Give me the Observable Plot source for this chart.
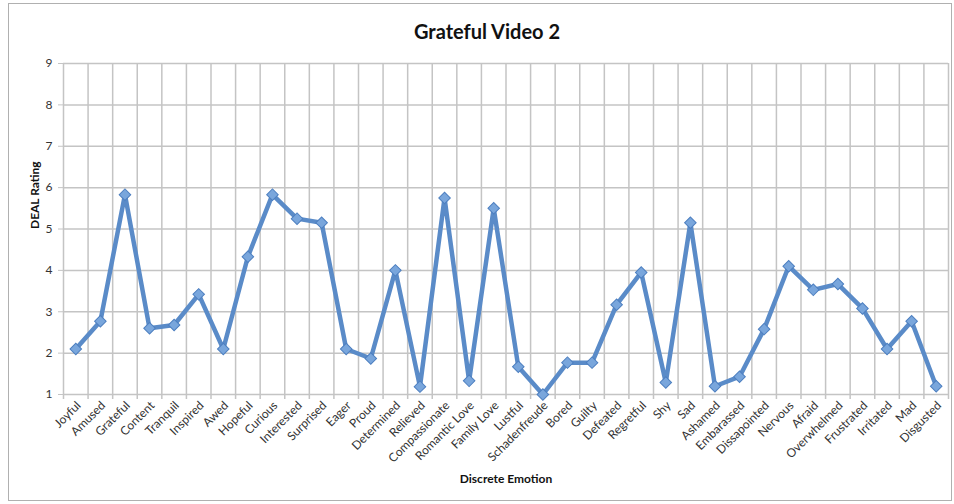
<!DOCTYPE html>
<html><head><meta charset="utf-8">
<script src="https://cdn.jsdelivr.net/npm/d3@7"></script>
<script src="https://cdn.jsdelivr.net/npm/@observablehq/plot@0.6"></script>
<style>
body{margin:0;background:#fff;font-family:Lato,"Open Sans",sans-serif;}
#wrap{position:relative;width:954px;height:504px;overflow:hidden;}
#border{position:absolute;left:8px;top:3px;width:942px;height:496px;border:1px solid #b0b0b0;}
#title{position:absolute;left:0;top:19px;width:974px;text-align:center;font-weight:bold;font-size:20px;color:#111;}
#chart{position:absolute;left:0;top:50px;}
</style></head>
<body>
<div id="wrap"><div id="border"></div><div id="title">Grateful Video 2</div><div id="chart"></div></div>
<script>
const emotions = ["Joyful","Amused","Grateful","Content","Tranquil","Inspired","Awed","Hopeful","Curious","Interested","Surprised","Eager","Proud","Determined","Relieved","Compassionate","Romantic Love","Family Love","Lustful","Schadenfreude","Bored","Guilty","Defeated","Regretful","Shy","Sad","Ashamed","Embarassed","Dissapointed","Nervous","Afraid","Overwhelmed","Frustrated","Irritated","Mad","Disgusted"];
const ratings = [2.1,2.77,5.83,2.6,2.68,3.42,2.1,4.33,5.83,5.25,5.15,2.1,1.87,4.0,1.19,5.75,1.33,5.5,1.67,1.0,1.77,1.77,3.17,3.95,1.29,5.15,1.2,1.43,2.58,4.1,3.53,3.67,3.08,2.1,2.77,1.2];
const yTicks = [1,2,3,4,5,6,7,8,9];
const yLabel = "DEAL Rating";
const xLabel = "Discrete Emotion";

const data = emotions.map((e, i) => ({emotion: e, rating: ratings[i]}));
const W = 954, ML = 63, MR = 6;
const bw = (W - ML - MR) / emotions.length;
const grid = "#c4c4c4";

const chart = Plot.plot({
  width: W, height: 454,
  marginTop: 13, marginBottom: 110, marginLeft: ML, marginRight: MR,
  style: {fontFamily: "Lato, 'Open Sans', sans-serif", color: "#333", background: "transparent"},
  x: {type: "band", domain: emotions, padding: 0, round: false, label: null},
  y: {domain: [1, 9], label: null},
  marks: [
    Plot.ruleY(yTicks, {y: d => d, stroke: grid, strokeWidth: 1.5}),
    Plot.ruleX(emotions, {x: d => d, dx: -bw / 2, stroke: grid, strokeWidth: 1.5, insetBottom: -5}),
    Plot.ruleX(emotions.slice(-1), {x: d => d, dx: bw / 2, stroke: grid, strokeWidth: 1.5, insetBottom: -5}),
    Plot.axisY({ticks: yTicks, tickSize: 5, tickPadding: 6, fontSize: 12, stroke: grid, label: null}),
    Plot.axisX({tickSize: 0, tickRotate: -45, tickPadding: 9, dx: 3, fontSize: 12, fill: "#333", label: null}),
    Plot.text([xLabel], {frameAnchor: "bottom", dy: 88, fontWeight: "bold", fontSize: 12, fill: "#111"}),
    Plot.text([yLabel], {frameAnchor: "left", dx: -28, rotate: -90, fontWeight: "bold", fontSize: 12, fill: "#111"}),
    Plot.line(data, {x: "emotion", y: "rating", stroke: "#5a8bc8", strokeWidth: 4.5, strokeLinejoin: "round"}),
    Plot.dot(data, {x: "emotion", y: "rating", symbol: "square", rotate: 45, r: 4.6, fill: "#79a6dc", stroke: "#4d7fc0", strokeWidth: 1})
  ]
});
document.getElementById("chart").appendChild(chart);
</script>
</body></html>
